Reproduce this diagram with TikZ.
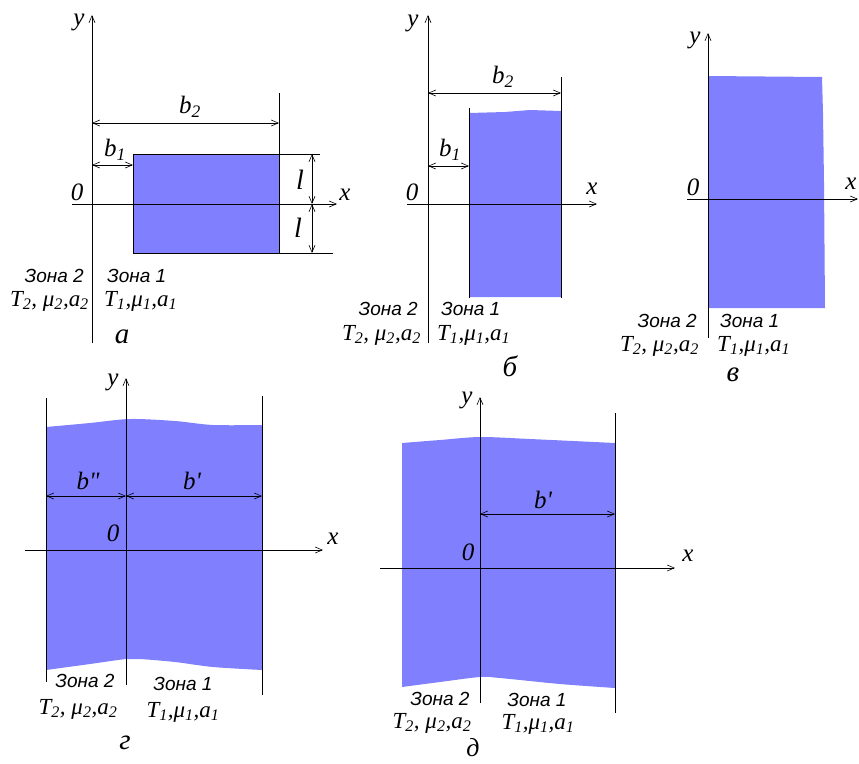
\documentclass[tikz,border=0pt]{standalone}
\usepackage{fontspec}
\setmainfont{Liberation Serif}
\newfontfamily\serifit{Liberation Serif}
\newfontfamily\zonafont{Liberation Sans}
\usetikzlibrary{arrows.meta}
\definecolor{zonefill}{RGB}{128,128,255}
\tikzset{
  barb/.tip={Straight Barb[length=7pt,width=6pt,line width=0.6pt]},
  ln/.style={line width=0.8pt},
  axis/.style={line width=0.8pt,-barb},
  dimline/.style={line width=0.8pt,barb-barb},
  lbl/.style={font=\serifit\fontsize{25}{25}\selectfont\itshape,inner sep=0pt},
  zona/.style={font=\zonafont\fontsize{19}{19}\selectfont\itshape,inner sep=0pt},
  params/.style={font=\serifit\fontsize{23}{23}\selectfont\itshape,inner sep=0pt},
  panelname/.style={font=\serifit\fontsize{29}{29}\selectfont\itshape,inner sep=0pt}
}
\newcommand{\TzTwo}{T\textsubscript{2}, μ\textsubscript{2},a\textsubscript{2}}
\newcommand{\TzOne}{T\textsubscript{1},μ\textsubscript{1},a\textsubscript{1}}
\begin{document}
\begin{tikzpicture}[x=1pt,y=-1pt]
\useasboundingbox (0,0) rectangle (859,763);

% ================= panel a
\fill[zonefill] (133,154) rectangle (279,253);
\draw[ln] (133,154) rectangle (279,253);
\coordinate (a-top) at (279,93);
\coordinate (a-rt) at (279,154);
\coordinate (a-rb) at (279,253);
\coordinate (a-et) at (320,154);
\coordinate (a-eb) at (333,253);
\draw[ln] (a-top) -- (a-rt);
\draw[ln] (a-rt) -- (a-et);
\draw[ln] (a-rb) -- (a-eb);
\coordinate (a-y0) at (92,343); \coordinate (a-y1) at (92,15);
\coordinate (a-x0) at (72,204); \coordinate (a-x1) at (337,204);
\draw[axis] (a-y0) -- (a-y1);
\draw[axis] (a-x0) -- (a-x1);
\coordinate (a-b2l) at (92,123); \coordinate (a-b2r) at (279,123);
\coordinate (a-b1l) at (92,165); \coordinate (a-b1r) at (133,165);
\coordinate (a-l1) at (312,154); \coordinate (a-l0) at (312,204); \coordinate (a-l2) at (312,253);
\draw[dimline] (a-b2l) -- (a-b2r);
\draw[dimline] (a-b1l) -- (a-b1r);
\draw[dimline] (a-l1) -- (a-l0);
\draw[dimline] (a-l0) -- (a-l2);
\node[lbl] (a-ylab) at (79,22) {y};
\node[lbl] (a-olab) at (77,192) {0};
\node[lbl] (a-xlab) at (345,195) {x};
\node[lbl] (a-b2lab) at (190,107) {b\textsubscript{2}};
\node[lbl] (a-b1lab) at (115,150) {b\textsubscript{1}};
\node[lbl,font=\serifit\fontsize{28}{28}\selectfont\itshape] (a-llab1) at (300,180) {l};
\node[lbl,font=\serifit\fontsize{28}{28}\selectfont\itshape] (a-llab2) at (298,228) {l};
\node[zona,anchor=east] (a-z2) at (84,276) {Зона 2};
\node[zona,anchor=west] (a-z1) at (107,276) {Зона 1};
\node[params,anchor=east] (a-p2) at (89,301) {\TzTwo};
\node[params,anchor=west] (a-p1) at (104,301) {\TzOne};
\node[panelname] (a-name) at (122,337) {а};

% ================= panel b
\fill[zonefill] (469,113) -- (505,112) -- (530,110) -- (561,111) -- (561,297) -- (469,297) -- cycle;
\coordinate (b-lt) at (469,108); \coordinate (b-lb) at (469,298);
\coordinate (b-rt) at (561,77); \coordinate (b-rb) at (561,298);
\draw[ln] (b-lt) -- (b-lb);
\draw[ln] (b-rt) -- (b-rb);
\coordinate (b-y0) at (428,343); \coordinate (b-y1) at (428,15);
\coordinate (b-x0) at (407,204); \coordinate (b-x1) at (597,204);
\draw[axis] (b-y0) -- (b-y1);
\draw[axis] (b-x0) -- (b-x1);
\coordinate (b-b2l) at (428,93); \coordinate (b-b2r) at (561,93);
\coordinate (b-b1l) at (428,166); \coordinate (b-b1r) at (469,166);
\draw[dimline] (b-b2l) -- (b-b2r);
\draw[dimline] (b-b1l) -- (b-b1r);
\node[lbl] (b-ylab) at (413,23) {y};
\node[lbl] (b-olab) at (412,192) {0};
\node[lbl] (b-xlab) at (592,189) {x};
\node[lbl] (b-b2lab) at (503,77) {b\textsubscript{2}};
\node[lbl] (b-b1lab) at (450,150) {b\textsubscript{1}};
\node[zona,anchor=east] (b-z2) at (418,309) {Зона 2};
\node[zona,anchor=west] (b-z1) at (441,309) {Зона 1};
\node[params,anchor=east] (b-p2) at (421,335) {\TzTwo};
\node[params,anchor=west] (b-p1) at (437,335) {\TzOne};
\node[panelname] (b-name) at (510,366) {б};

% ================= panel v
\fill[zonefill] (708,76) -- (822,77) -- (823,113) -- (824,183) -- (825,308) -- (708,308) -- cycle;
\coordinate (v-y0) at (708,338); \coordinate (v-y1) at (708,33);
\coordinate (v-x0) at (687,199); \coordinate (v-x1) at (858,199);
\draw[axis] (v-y0) -- (v-y1);
\draw[axis] (v-x0) -- (v-x1);
\node[lbl] (v-ylab) at (695,40) {y};
\node[lbl] (v-olab) at (693,187) {0};
\node[lbl] (v-xlab) at (851,184) {x};
\node[zona,anchor=east] (v-z2) at (697,321) {Зона 2};
\node[zona,anchor=west] (v-z1) at (720,321) {Зона 1};
\node[params,anchor=east] (v-p2) at (699,346) {\TzTwo};
\node[params,anchor=west] (v-p1) at (717,346) {\TzOne};
\node[panelname] (v-name) at (733,375) {в};

% ================= panel g
\fill[zonefill] plot[smooth] coordinates {(46,427) (90,423) (130,419) (175,421) (213,425) (262,425)}
  -- plot[smooth] coordinates {(262,670) (213,667) (175,662) (140,659) (126,659) (90,664) (46,670)} -- cycle;
\coordinate (g-lt) at (46,398); \coordinate (g-lb) at (46,682);
\coordinate (g-rt) at (262,396); \coordinate (g-rb) at (262,695);
\draw[ln] (g-lt) -- (g-lb);
\draw[ln] (g-rt) -- (g-rb);
\coordinate (g-y0) at (126,685); \coordinate (g-y1) at (126,378);
\coordinate (g-x0) at (25,550); \coordinate (g-x1) at (323,550);
\draw[axis] (g-y0) -- (g-y1);
\draw[axis] (g-x0) -- (g-x1);
\coordinate (g-dl) at (46,496); \coordinate (g-dm) at (126,496); \coordinate (g-dr) at (262,496);
\draw[dimline] (g-dl) -- (g-dm);
\draw[dimline] (g-dm) -- (g-dr);
\node[lbl] (g-ylab) at (113,382) {y};
\node[lbl] (g-olab) at (113,533) {0};
\node[lbl] (g-xlab) at (333,539) {x};
\node[lbl] (g-b2lab) at (88,481) {b\textquotedbl};
\node[lbl] (g-b1lab) at (192,481) {b\textquotesingle};
\node[zona] (g-z2) at (85,681) {Зона 2};
\node[zona] (g-z1) at (183,684) {Зона 1};
\node[params] (g-p2) at (78,709) {\TzTwo};
\node[params] (g-p1) at (183,712) {\TzOne};
\node[panelname] (g-name) at (125,743) {г};

% ================= panel d
\fill[zonefill] plot[smooth] coordinates {(402,443) (440,440) (480,437) (530,439) (615,443)}
  -- plot[smooth] coordinates {(615,688) (560,684) (500,678) (480,677) (440,682) (402,687)} -- cycle;
\coordinate (d-rt) at (615,413); \coordinate (d-rb) at (615,713);
\draw[ln] (d-rt) -- (d-rb);
\coordinate (d-y0) at (480,703); \coordinate (d-y1) at (480,397);
\coordinate (d-x0) at (380,568); \coordinate (d-x1) at (675,568);
\draw[axis] (d-y0) -- (d-y1);
\draw[axis] (d-x0) -- (d-x1);
\coordinate (d-dl) at (480,514); \coordinate (d-dr) at (615,514);
\draw[dimline] (d-dl) -- (d-dr);
\node[lbl] (d-ylab) at (467,400) {y};
\node[lbl] (d-olab) at (468,552) {0};
\node[lbl] (d-xlab) at (688,556) {x};
\node[lbl] (d-blab) at (543,500) {b\textquotesingle};
\node[zona] (d-z2) at (440,699) {Зона 2};
\node[zona] (d-z1) at (537,700) {Зона 1};
\node[params] (d-p2) at (432,723) {\TzTwo};
\node[params] (d-p1) at (538,724) {\TzOne};
\node[panelname,font=\serifit\fontsize{26}{26}\selectfont\itshape] (d-name) at (473,748) {д};
\end{tikzpicture}
\end{document}
